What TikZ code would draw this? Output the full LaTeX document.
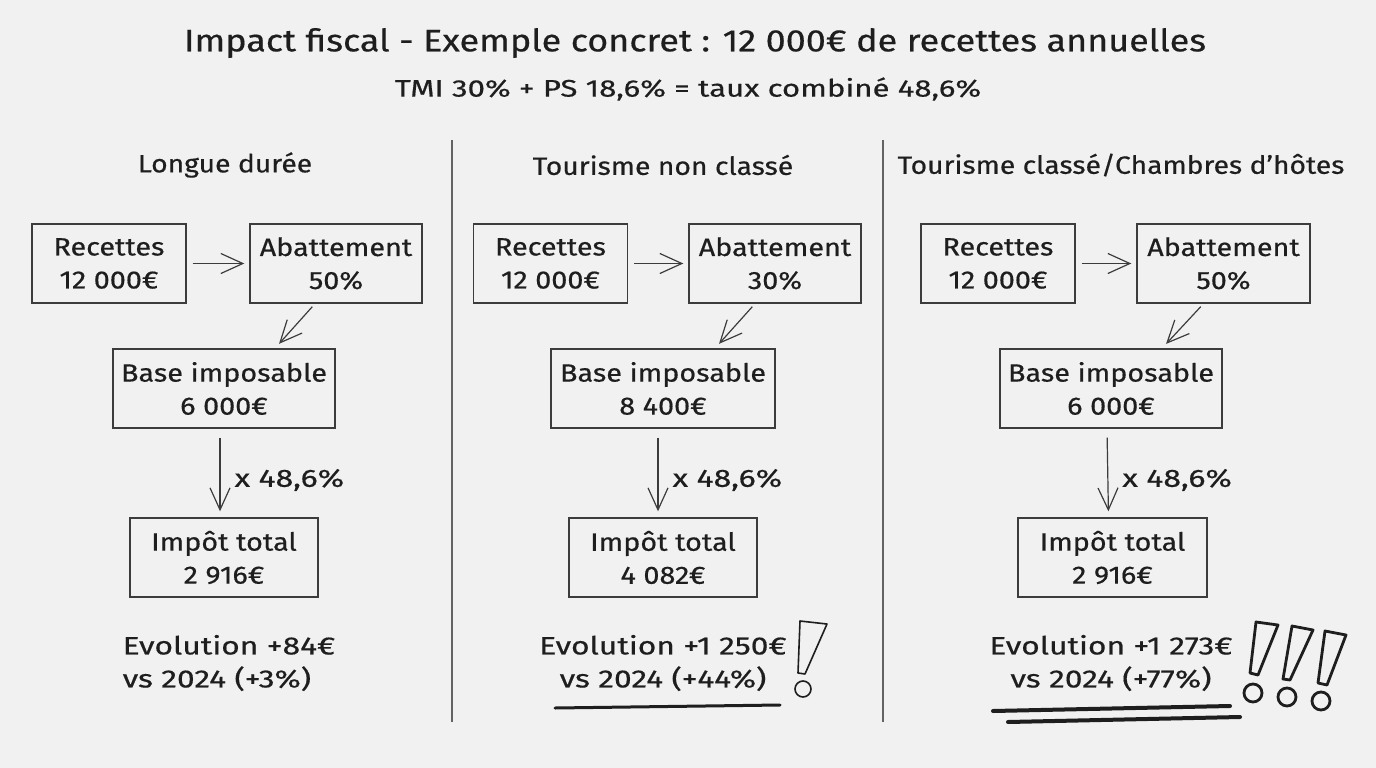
\documentclass[tikz,border=0pt]{standalone}
\usepackage{fontspec}
\setmainfont[FakeBold=0.5]{Fira Sans}
\usetikzlibrary{arrows.meta}
\definecolor{bg}{HTML}{F1F1F1}
\definecolor{ink}{HTML}{1E1E1E}
\definecolor{line}{HTML}{3C3C3C}
\newcommand{\fnt}[2]{\fontsize{#1}{33}\selectfont\addfontfeatures{FakeStretch=#2}}
\tikzset{
  box/.style={draw=line, line width=1.4pt, minimum height=79pt, inner sep=0pt, align=center, text=ink, font=\fnt{25}{1.15}},
  arr/.style={draw=line, line width=1.2pt, -{Straight Barb[length=22pt,width=20pt,line width=1.2pt]}, shorten >=5pt, shorten <=6pt},
  lbl/.style={text=ink, font=\fnt{25}{1.28}, inner sep=0pt},
  head/.style={text=ink, font=\fnt{25}{1.13}, inner sep=0pt},
  evo/.style={text=ink, font=\fnt{25}{1.27}, inner sep=0pt, align=center},
  divider/.style={draw=line!80, line width=1.3pt},
  uline/.style={draw=ink, line width=3pt, line cap=round},
  bang/.style={draw=ink, line width=1.6pt, line join=round},
}
\begin{document}
\begin{tikzpicture}[x=1pt,y=-1pt]
\fill[bg] (0,0) rectangle (1376,768);
\useasboundingbox (0,0) rectangle (1376,768);
% titles
\node[text=ink, font=\fnt{31}{1.16}, inner sep=0pt] (title) at (695,43) {Impact fiscal - Exemple concret : 12 000€ de recettes annuelles};
\node[text=ink, font=\fnt{24}{1.3}, inner sep=0pt] (sub) at (688,89) {TMI 30\% + PS 18,6\% = taux combiné 48,6\%};
% dividers
\coordinate (d1a) at (452,140); \coordinate (d1b) at (452,722);
\coordinate (d2a) at (883,140); \coordinate (d2b) at (883,722);
\draw[divider] (d1a) -- (d1b);
\draw[divider] (d2a) -- (d2b);
% headings
\node[head] (h1) at (225,165) {Longue durée};
\node[head] (h2) at (663,165) {Tourisme non classé};
\node[head] (h3) at (1121,165) {Tourisme classé/Chambres d’hôtes};

% column 1
\node[box, minimum width=154pt] (r1) at (109,263.5) {Recettes\\12 000€};
\node[box, minimum width=172pt] (a1) at (336,263.5) {Abattement\\50\%};
\node[box, minimum width=222pt] (b1) at (224,388.5) {Base imposable\\6 000€};
\node[box, minimum width=188pt] (i1) at (224,557.5) {Impôt total\\2 916€};
\draw[arr] (r1) -- (a1);
\draw[arr, shorten <=4pt, shorten >=6pt] ([xshift=-21pt]a1.south) -- ([xshift=51pt]b1.north);
\draw[arr, shorten <=9pt, shorten >=6pt] ([xshift=-4pt]b1.south) -- node[lbl, anchor=west, xshift=14pt, yshift=-7pt] (m1) {x 48,6\%} ([xshift=-4pt]i1.north);
\node[evo, align=left] (e1) at (229,663) {Evolution +84€\\vs 2024 (+3\%)};

% column 2
\node[box, minimum width=154pt] (r2) at (550.5,263.5) {Recettes\\12 000€};
\node[box, minimum width=172pt] (a2) at (775,263.5) {Abattement\\30\%};
\node[box, minimum width=224pt] (b2) at (663,388.5) {Base imposable\\8 400€};
\node[box, minimum width=188pt] (i2) at (663,557.5) {Impôt total\\4 082€};
\draw[arr] (r2) -- (a2);
\draw[arr, shorten <=4pt, shorten >=6pt] ([xshift=-20pt]a2.south) -- ([xshift=52pt]b2.north);
\draw[arr, shorten <=9pt, shorten >=6pt] ([xshift=-5pt]b2.south) -- node[lbl, anchor=west, xshift=14pt, yshift=-7pt] (m2) {x 48,6\%} ([xshift=-5pt]i2.north);
\node[evo] (e2) at (663,663) {Evolution +1 250€\\vs 2024 (+44\%)};
\coordinate (u2a) at (555,708); \coordinate (u2b) at (780,705);
\draw[uline] (u2a) -- (u2b);
% single exclamation
\draw[bang] (800,621) -- (827,624) -- (805,674) -- (798,673) -- cycle;
\draw[bang] (803,689) ellipse [x radius=8pt, y radius=8pt];

% column 3
\node[box, minimum width=154pt] (r3) at (998,263.5) {Recettes\\12 000€};
\node[box, minimum width=173pt] (a3) at (1223.5,263.5) {Abattement\\50\%};
\node[box, minimum width=222pt] (b3) at (1111,388.5) {Base imposable\\6 000€};
\node[box, minimum width=189pt] (i3) at (1112.5,557.5) {Impôt total\\2 916€};
\draw[arr] (r3) -- (a3);
\draw[arr, shorten <=4pt, shorten >=6pt] ([xshift=-20pt]a3.south) -- ([xshift=51pt]b3.north);
\draw[arr, shorten <=9pt, shorten >=6pt] ([xshift=-4pt]b3.south) -- node[lbl, anchor=west, xshift=14pt, yshift=-7pt] (m3) {x 48,6\%} ([xshift=-4pt]i3.north);
\node[evo] (e3) at (1111,663) {Evolution +1 273€\\vs 2024 (+77\%)};
\coordinate (u3a) at (993,711); \coordinate (u3b) at (1230,706);
\coordinate (u3c) at (1008,722); \coordinate (u3d) at (1240,717);
\draw[uline, line width=4pt] (u3a) -- (u3b);
\draw[uline, line width=4pt] (u3c) -- (u3d);
% triple exclamation
\draw[bang, line width=2.8pt] (1256,622) -- (1278,625) -- (1258,675) -- (1250,673) -- cycle;
\draw[bang, line width=2.8pt] (1253,693) ellipse [x radius=9pt, y radius=9pt];
\draw[bang, line width=2.8pt] (1292,626) -- (1313,630) -- (1290,680) -- (1283,679) -- cycle;
\draw[bang, line width=2.8pt] (1287,697) ellipse [x radius=9pt, y radius=9pt];
\draw[bang, line width=2.8pt] (1325,631) -- (1346,635) -- (1327,685) -- (1318,683) -- cycle;
\draw[bang, line width=2.8pt] (1321,701) ellipse [x radius=9pt, y radius=9pt];
\end{tikzpicture}
\end{document}
